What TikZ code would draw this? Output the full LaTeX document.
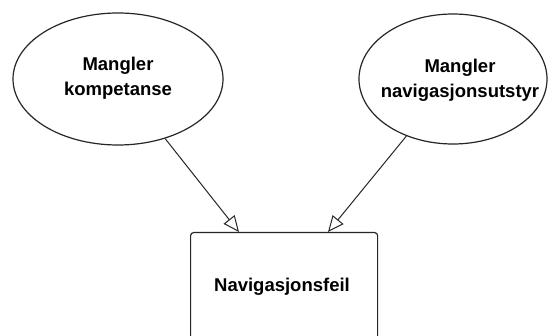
\documentclass[tikz,border=0pt]{standalone}
\usepackage{fontspec}
\setmainfont{Liberation Sans}
\usetikzlibrary{arrows.meta,shapes.geometric}
\begin{document}
\begin{tikzpicture}[x=1pt,y=-1pt,
  cause/.style={ellipse,draw=black!85,line width=1.2pt,fill=white,inner sep=0pt},
  effect/.style={rectangle,draw=black!85,line width=1.2pt,rounded corners=3pt,fill=white},
  label/.style={font=\fontsize{18.5}{25}\selectfont\bfseries,align=center,text=black},
  link/.style={draw=black!85,line width=1pt,-{Triangle[open,length=16pt,width=14pt,line width=1pt]}}]
  \useasboundingbox[fill=white] (0,0) rectangle (549,336);
  % two causes
  \node[cause,minimum width=210pt,minimum height=132pt] (komp) at (118,79) {};
  \node[label] at (118,78) {Mangler\\kompetanse};
  \node[cause,minimum width=188pt,minimum height=130pt] (utstyr) at (453,79) {};
  \node[label] at (460,80) {Mangler\\navigasjonsutstyr};
  % the effect, running past the lower edge
  \node[effect,minimum width=187pt,minimum height=120pt,anchor=north west] (feil) at (190,232) {};
  \node[label] at (282,287) {Navigasjonsfeil};
  \coordinate (inL) at (239,232);
  \coordinate (inR) at (328,232);
  \draw[link] (komp) -- (inL);
  \draw[link] (utstyr) -- (inR);
\end{tikzpicture}
\end{document}
